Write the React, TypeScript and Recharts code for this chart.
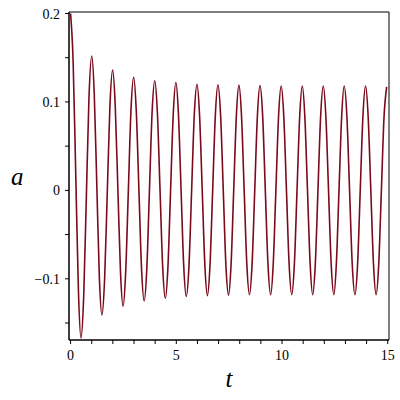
import React from 'react';
import { LineChart, Line, XAxis, YAxis, Label, ReferenceArea } from 'recharts';

// time samples (peak, quarter, zero, quarter, trough ...)
const tValues = [
  0, 0.12, 0.245, 0.37, 0.49, 0.62, 0.745, 0.87,
  1.0, 1.12, 1.24, 1.36, 1.48, 1.61, 1.735, 1.86,
  1.99, 2.11, 2.235, 2.36, 2.48, 2.605, 2.73, 2.855,
  2.98, 3.105, 3.23, 3.355, 3.48, 3.605, 3.73, 3.855,
  3.98, 4.105, 4.23, 4.355, 4.48, 4.605, 4.73, 4.855,
  4.98, 5.1, 5.225, 5.35, 5.47, 5.6, 5.725, 5.85,
  5.98, 6.1, 6.225, 6.35, 6.47, 6.595, 6.72, 6.845,
  6.97, 7.095, 7.22, 7.345, 7.47, 7.59, 7.715, 7.84,
  7.96, 8.085, 8.21, 8.335, 8.46, 8.585, 8.71, 8.835,
  8.96, 9.085, 9.21, 9.335, 9.46, 9.585, 9.71, 9.835,
  9.96, 10.085, 10.21, 10.335, 10.46, 10.585, 10.71, 10.835,
  10.96, 11.08, 11.205, 11.33, 11.45, 11.575, 11.7, 11.825,
  11.95, 12.075, 12.2, 12.325, 12.45, 12.57, 12.695, 12.82,
  12.94, 13.07, 13.195, 13.32, 13.45, 13.575, 13.7, 13.825,
  13.95, 14.075, 14.2, 14.325, 14.45, 14.575, 14.7, 14.825,
  14.95,
];

const aValues = [
  0.2, 0.146, 0.017, -0.113, -0.167, -0.12, -0.008, 0.105,
  0.152, 0.109, 0.006, -0.098, -0.141, -0.1, -0.003, 0.095,
  0.136, 0.097, 0.003, -0.092, -0.131, -0.093, -0.002, 0.09,
  0.128, 0.091, 0.002, -0.088, -0.125, -0.089, 0, 0.088,
  0.124, 0.088, 0.001, -0.086, -0.122, -0.086, 0, 0.086,
  0.122, 0.087, 0.001, -0.085, -0.12, -0.085, 0, 0.085,
  0.12, 0.085, 0.001, -0.084, -0.119, -0.084, 0, 0.084,
  0.1195, 0.085, 0.001, -0.084, -0.1185, -0.084, 0, 0.084,
  0.119, 0.084, 0, -0.083, -0.118, -0.083, 0, 0.084,
  0.1185, 0.084, 0, -0.083, -0.118, -0.083, 0, 0.083,
  0.118, 0.083, 0, -0.083, -0.118, -0.083, 0, 0.083,
  0.118, 0.083, 0, -0.083, -0.118, -0.083, 0, 0.083,
  0.118, 0.083, 0, -0.083, -0.118, -0.083, 0, 0.083,
  0.118, 0.083, 0, -0.083, -0.118, -0.083, 0, 0.083,
  0.118, 0.083, 0, -0.083, -0.118, -0.083, 0, 0.083,
  0.117,
];

const xTicks = [0, 1, 2, 3, 4, 5, 6, 7, 8, 9, 10, 11, 12, 13, 14, 15];
const xLabels = [0, 5, 10, 15];
const yTicks = [-0.15, -0.1, -0.05, 0, 0.05, 0.1, 0.15, 0.2];
const yLabels = [-0.1, 0, 0.1, 0.2];

const xDomain = [-0.075, 15.06];
const yDomain = [-0.1692, 0.2017];

const data = tValues.map((t, i) => ({ t, a: aValues[i] }));

const serif = '"Liberation Serif", "DejaVu Serif", serif';
const titleStyle = { fill: '#000', fontSize: 25, fontStyle: 'italic', fontFamily: serif };

const fmtX = (v: number) => (xLabels.includes(v) ? String(v) : '');

const fmtY = (v: number) => {
  const hit = yLabels.find((l) => Math.abs(l - v) < 1e-9);
  if (hit === undefined) return '';
  if (hit === 0) return '0';
  return hit < 0 ? `\u2212${Math.abs(hit)}` : String(hit);
};

const XTick = ({ x, y, payload }: any) => (
  <text x={x} y={y} dy={10} textAnchor="middle" fill="#000" fontSize={14} fontFamily={serif}>
    {fmtX(payload.value)}
  </text>
);

const YTick = ({ x, y, payload }: any) => (
  <text x={x} y={y} dy={5} textAnchor="end" fill="#000" fontSize={14} fontFamily={serif}>
    {fmtY(payload.value)}
  </text>
);

export default function App() {
  return (
    <div style={{ position: 'absolute', left: 0, top: 0, background: '#fff' }}>
      <LineChart
        width={400}
        height={400}
        data={data}
        margin={{ top: 12, right: 11, bottom: 0, left: 0 }}
      >
        <XAxis
          dataKey="t"
          type="number"
          domain={xDomain}
          allowDataOverflow
          ticks={xTicks}
          interval={0}
          tick={<XTick />}
          tickSize={4}
          tickMargin={6}
          height={60}
          axisLine={{ stroke: '#000' }}
          tickLine={{ stroke: '#000' }}
        >
          <Label value="t" position="insideBottom" offset={13} {...titleStyle} />
        </XAxis>
        <YAxis
          type="number"
          domain={yDomain}
          allowDataOverflow
          ticks={yTicks}
          interval={0}
          tick={<YTick />}
          tickSize={4}
          tickMargin={5}
          width={69}
          axisLine={{ stroke: '#000' }}
          tickLine={{ stroke: '#000' }}
        >
          <Label value="a" position="insideLeft" offset={11} {...titleStyle} />
        </YAxis>
        <ReferenceArea
          x1={xDomain[0]}
          x2={xDomain[1]}
          y1={yDomain[0]}
          y2={yDomain[1]}
          fill="none"
          fillOpacity={0}
          stroke="#000"
          strokeWidth={1}
          ifOverflow="visible"
        />
        <Line
          type="monotone"
          dataKey="a"
          stroke="#7b0a1c"
          strokeWidth={1.6}
          dot={false}
          isAnimationActive={false}
        />
      </LineChart>
    </div>
  );
}
